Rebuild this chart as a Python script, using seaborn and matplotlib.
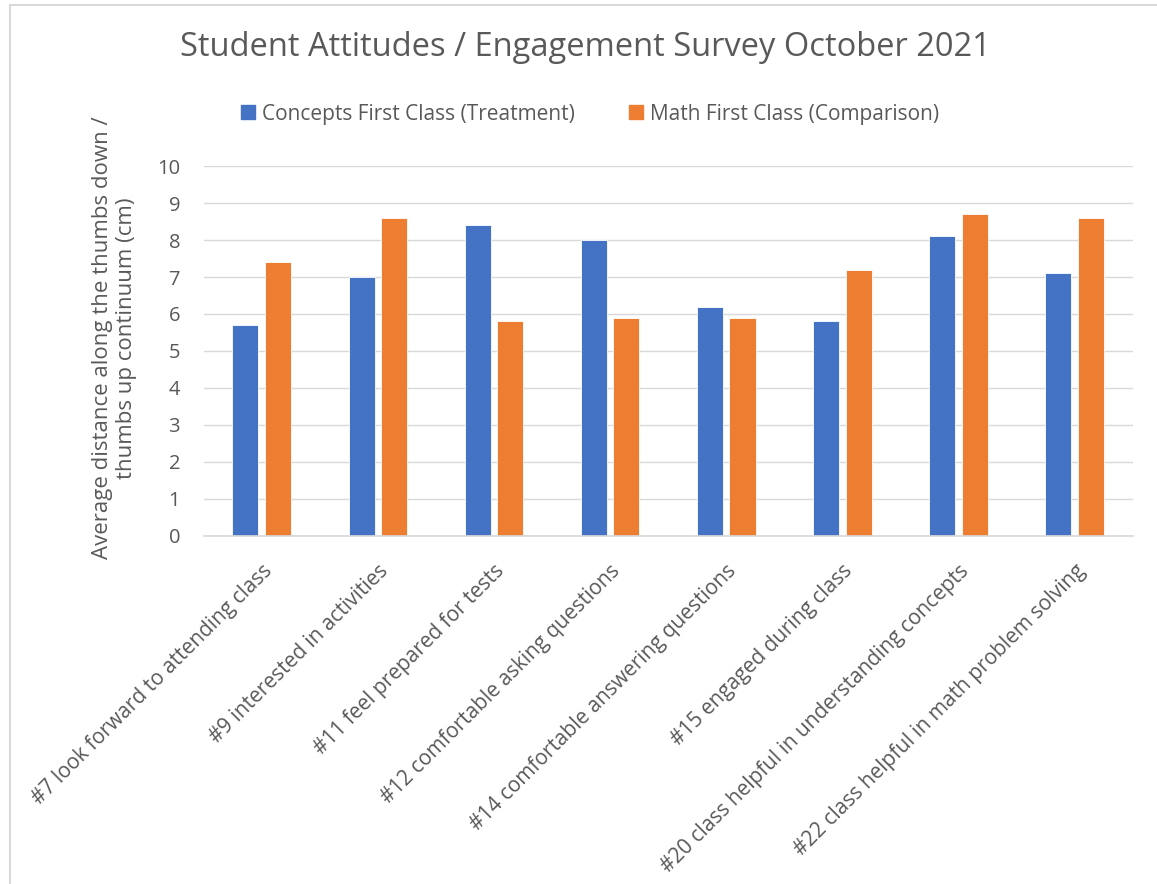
import pandas as pd
import seaborn as sns
import matplotlib.pyplot as plt
from matplotlib.lines import Line2D

questions = ["#7 look forward to attending class", "#9 interested in activities",
             "#11 feel prepared for tests", "#12 comfortable asking questions",
             "#14 comfortable answering questions", "#15 engaged during class",
             "#20 class helpful in understanding concepts", "#22 class helpful in math problem solving"]
concepts_first = [5.7, 7.0, 8.4, 8.0, 6.2, 5.8, 8.1, 7.1]
math_first = [7.4, 8.6, 5.8, 5.9, 5.9, 7.2, 8.7, 8.6]
series = ["Concepts First Class (Treatment)", "Math First Class (Comparison)"]

df = pd.DataFrame({"question": questions * 2,
                   "value": concepts_first + math_first,
                   "group": [series[0]] * len(questions) + [series[1]] * len(questions)})

sns.set_theme(style="white")
plt.rcParams['font.family'] = ['Open Sans', 'DejaVu Sans']
grey = "#595959"

fig = plt.figure(figsize=(11.57, 8.84), dpi=100)
ax = fig.add_axes([0.176, 0.394, 0.803, 0.418])
sns.barplot(data=df, x="question", y="value", hue="group", palette=["#4472C4", "#ED7D31"],
            saturation=1, width=0.56, gap=0.2, ax=ax, edgecolor="white", linewidth=0.6)

ax.set_ylim(0, 10)
ax.set_yticks(range(0, 11))
ax.yaxis.grid(True, color="#D9D9D9", linewidth=1)
ax.set_axisbelow(True)
for s in ["top", "right", "left"]:
    ax.spines[s].set_visible(False)
ax.spines["bottom"].set_color("#D9D9D9")
ax.tick_params(axis="y", labelsize=14.5, colors=grey, length=0, pad=17)
ax.tick_params(axis="x", labelsize=15, colors=grey, length=0, pad=18)
plt.setp(ax.get_xticklabels(), rotation=45, ha="right", rotation_mode="anchor")
ax.set_xlabel("")
ax.set_ylabel("Average distance along the thumbs down /\nthumbs up continuum (cm)", fontsize=16, color=grey)
ax.yaxis.set_label_coords(-0.072, 0.535)

ax.legend_.remove()
handles = [plt.Rectangle((0, 0), 1, 1, color=c) for c in ["#4472C4", "#ED7D31"]]
fig.legend(handles, series, loc="center", bbox_to_anchor=(0.51, 0.871), ncol=2, frameon=False,
           fontsize=15, labelcolor=grey, handlelength=0.65, handleheight=0.65,
           handletextpad=0.35, columnspacing=2.6)

fig.suptitle("Student Attitudes / Engagement Survey October 2021", fontsize=23.5, color=grey,
             y=0.946, x=0.506, va="center")
fig.add_artist(Line2D([10 / 1157, 1], [1 - 5 / 884, 1 - 5 / 884], transform=fig.transFigure,
                      color="#D9D9D9", linewidth=1.5))
fig.add_artist(Line2D([10 / 1157, 10 / 1157], [0, 1 - 5 / 884], transform=fig.transFigure,
                      color="#D9D9D9", linewidth=1.5))
fig.savefig("out.png", dpi=100, facecolor="white")
